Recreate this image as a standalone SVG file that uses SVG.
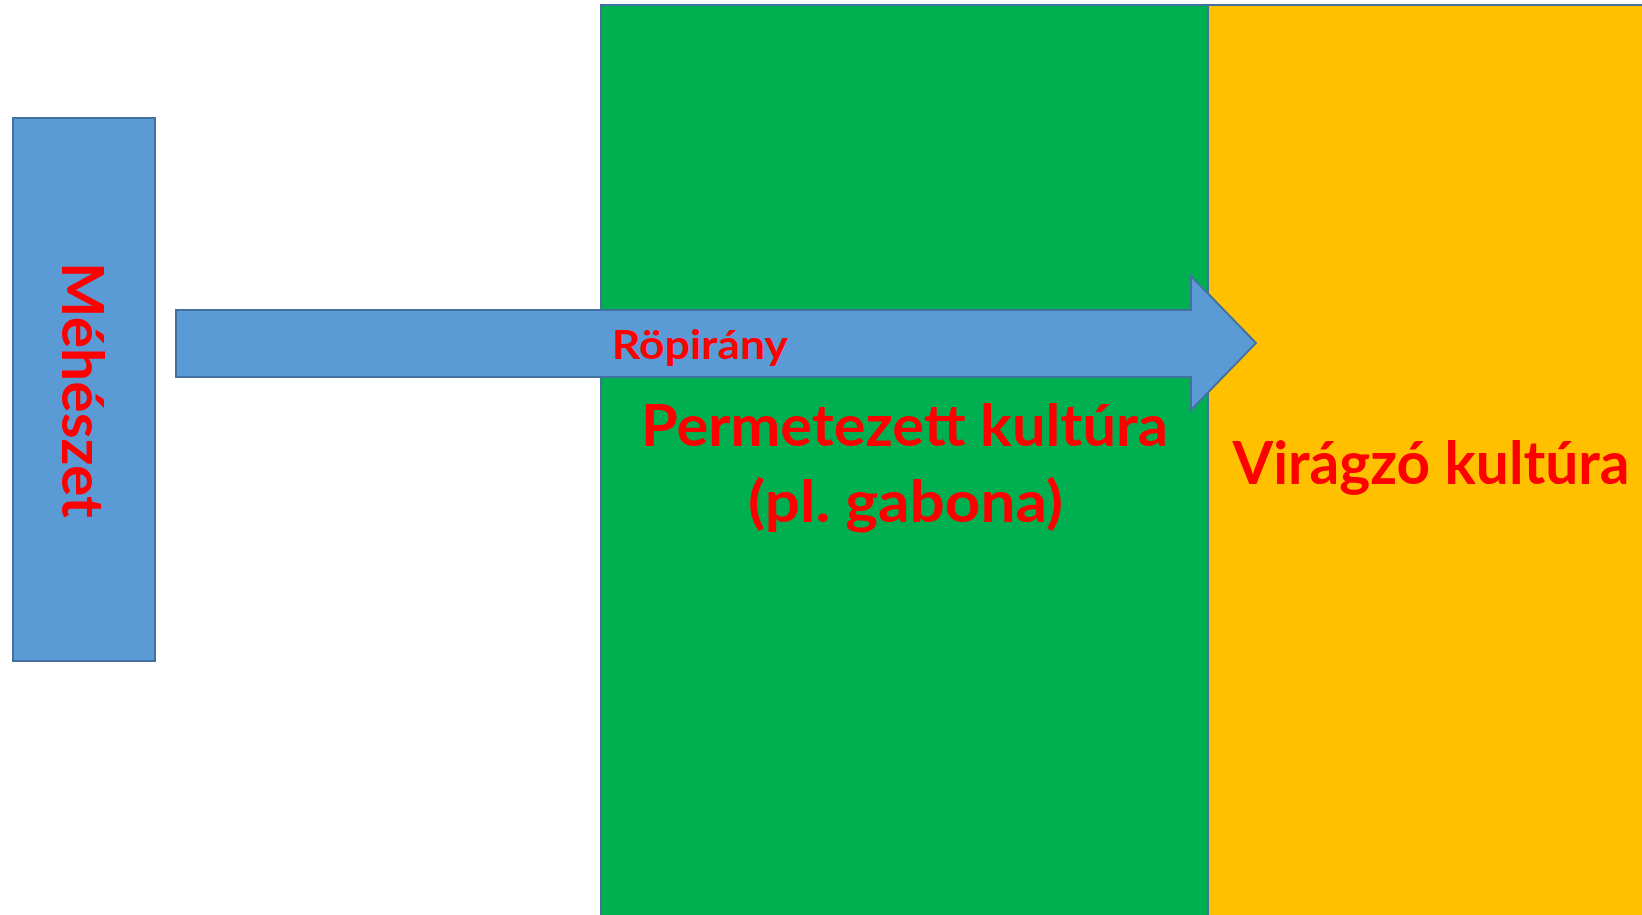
<svg xmlns="http://www.w3.org/2000/svg" width="1642" height="915" viewBox="0 0 1642 915">
  <style>
    .field { stroke: #41719C; stroke-width: 2; }
    .blue { fill: #5B9BD5; stroke: #41719C; stroke-width: 2; }
    .lbl { font-family: Lato, "Open Sans", "Liberation Sans", sans-serif; font-weight: bold; fill: #FF0000; text-anchor: middle; }
  </style>
  <rect width="1642" height="915" fill="#FFFFFF"/>

  <!-- flowering crop field (right) -->
  <g id="viragzo">
    <rect class="field" x="1208" y="5" width="450" height="920" fill="#FFC000"/>
    <text class="lbl" x="1431" y="484" font-size="59" textLength="397" lengthAdjust="spacingAndGlyphs">Virágzó kultúra</text>
  </g>

  <!-- sprayed crop field (middle) -->
  <g id="permetezett">
    <rect class="field" x="601" y="5" width="607" height="920" fill="#00B050"/>
    <text class="lbl" x="904.5" y="446" font-size="58" textLength="527" lengthAdjust="spacingAndGlyphs">Permetezett kultúra</text>
    <text class="lbl" x="905.5" y="522" font-size="58" textLength="315" lengthAdjust="spacingAndGlyphs">(pl. gabona)</text>
  </g>

  <!-- apiary -->
  <g id="meheszet">
    <rect class="blue" x="13" y="118" width="142" height="543"/>
    <text class="lbl" transform="translate(62,390) rotate(90)" font-size="58" textLength="256" lengthAdjust="spacingAndGlyphs">Méhészet</text>
  </g>

  <!-- flight direction arrow -->
  <g id="connectors">
    <g id="ropirany">
      <polygon class="blue" points="176,310 1191,310 1191,276 1256,343 1191,410 1191,377 176,377"/>
      <text class="lbl" x="700" y="359" font-size="40" textLength="176" lengthAdjust="spacingAndGlyphs">Röpirány</text>
    </g>
  </g>
</svg>
